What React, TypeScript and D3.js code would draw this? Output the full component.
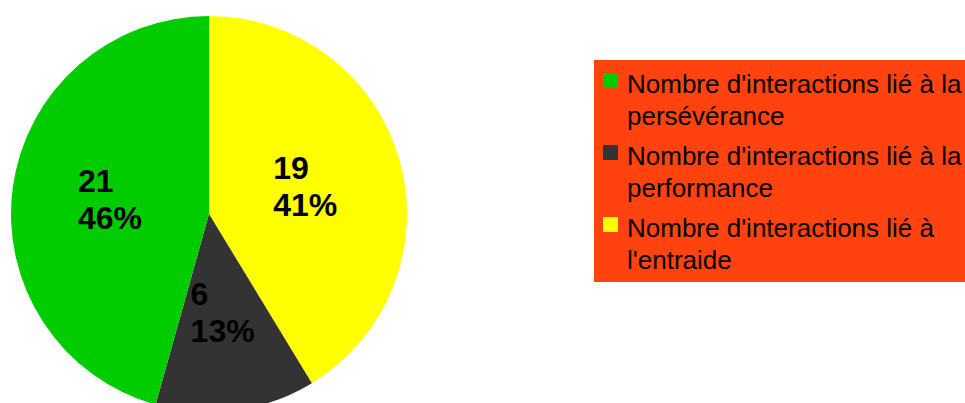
import React, { useEffect, useRef } from "react";
import * as d3 from "d3";

const categories = [
  "Nombre d'interactions lié à l'entraide",
  "Nombre d'interactions lié à la performance",
  "Nombre d'interactions lié à la persévérance",
];
const values = [19, 6, 21];
const colors = ["#ffff00", "#333333", "#00cc00"];

// legend order differs from slice order
const legendOrder = [2, 1, 0];
const legendLines = [
  ["Nombre d'interactions lié à la", "persévérance"],
  ["Nombre d'interactions lié à la", "performance"],
  ["Nombre d'interactions lié à", "l'entraide"],
];

const width = 965;
const height = 403;

export default function App() {
  const ref = useRef<SVGSVGElement>(null);

  useEffect(() => {
    const svg = d3.select(ref.current);
    svg.selectAll("*").remove();

    const cx = 209;
    const cy = 214;
    const radius = 198;
    const total = d3.sum(values);

    const pie = d3
      .pie<number>()
      .sort(null)
      .value((d) => d);
    const arcs = pie(values);

    const arc = d3.arc<d3.PieArcDatum<number>>().innerRadius(0).outerRadius(radius);
    const labelArc = d3
      .arc<d3.PieArcDatum<number>>()
      .innerRadius(100)
      .outerRadius(100);

    const g = svg.append("g").attr("transform", `translate(${cx},${cy})`);

    g.selectAll("path")
      .data(arcs)
      .enter()
      .append("path")
      .attr("d", arc)
      .attr("fill", (d, i) => colors[i]);

    // labels: value and percentage, left aligned block centred on the centroid
    arcs.forEach((a) => {
      const [x, y] = labelArc.centroid(a);
      const t = g
        .append("text")
        .style("font-family", "'Liberation Sans', Arial, sans-serif")
        .style("font-size", "32px")
        .style("font-weight", "bold")
        .attr("fill", "#000");
      const l1 = t.append("tspan").attr("y", y - 8).text(String(a.data));
      const l2 = t
        .append("tspan")
        .attr("y", y + 29)
        .text(`${Math.round((a.data / total) * 100)}%`);
      const w = Math.max(
        (l1.node() as SVGTSpanElement).getComputedTextLength(),
        (l2.node() as SVGTSpanElement).getComputedTextLength()
      );
      l1.attr("x", x - w / 2);
      l2.attr("x", x - w / 2);
    });

    // legend
    const lg = svg.append("g");
    lg.append("rect")
      .attr("x", 594)
      .attr("y", 60)
      .attr("width", 371)
      .attr("height", 222)
      .attr("fill", "#ff420e");

    legendOrder.forEach((idx, i) => {
      const top = 73 + i * 72;
      lg.append("rect")
        .attr("x", 603)
        .attr("y", top)
        .attr("width", 15)
        .attr("height", 15)
        .attr("fill", colors[idx]);
      const t = lg
        .append("text")
        .style("font-family", "'Liberation Sans', Arial, sans-serif")
        .style("font-size", "26px")
        .attr("fill", "#000");
      legendLines[i].forEach((line, j) => {
        t.append("tspan")
          .attr("x", 627)
          .attr("y", top + 20 + j * 32)
          .text(line);
      });
    });
  }, []);

  return (
    <div style={{ position: "absolute", left: 0, top: 0 }}>
      <svg ref={ref} width={width} height={height} style={{ display: "block" }}></svg>
    </div>
  );
}
